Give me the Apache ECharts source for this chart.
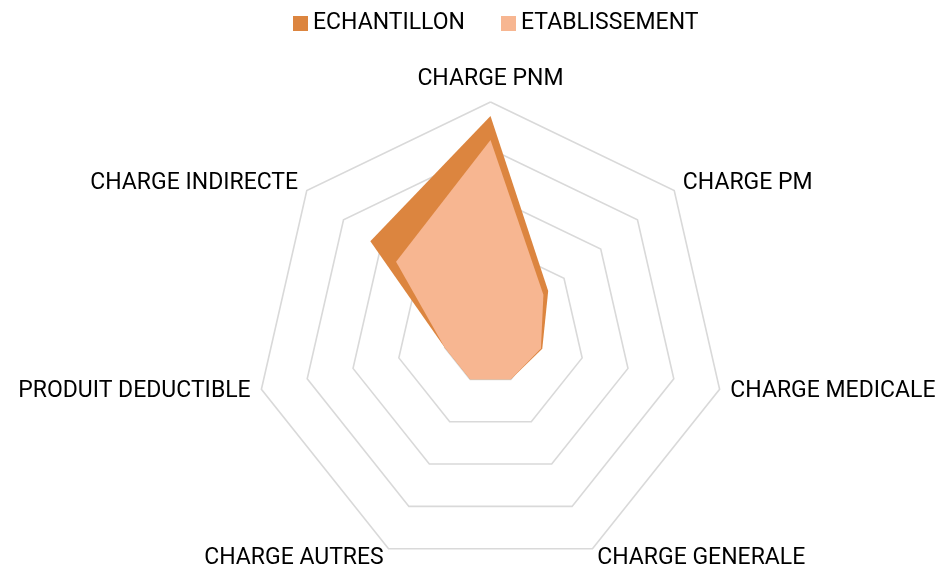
<!DOCTYPE html>
<html>
<head>
<meta charset="utf-8">
<script src="https://cdn.jsdelivr.net/npm/echarts@6/dist/echarts.min.js"></script>
<style>
html,body{margin:0;padding:0;background:#fff;}
#c{width:940px;height:570px;}
</style>
</head>
<body>
<div id="c"></div>
<script>
// Categories in clockwise order starting from the top
const categories = ['CHARGE PNM', 'CHARGE PM', 'CHARGE MEDICALE', 'CHARGE GENERALE', 'CHARGE AUTRES', 'PRODUIT DEDUCTIBLE', 'CHARGE INDIRECTE'];
const seriesNames = ['ECHANTILLON', 'ETABLISSEMENT'];
const echantillon = [4.70, 1.57, 1.13, 1.00, 1.00, 1.00, 3.27];
const etablissement = [4.19, 1.44, 1.10, 1.00, 1.00, 1.00, 2.57];
const axisMax = 5;

// ECharts lays radar indicators counter-clockwise; reorder to get clockwise layout
function cw(arr) { return [arr[0]].concat(arr.slice(1).reverse()); }

const chart = echarts.init(document.getElementById('c'));
chart.setOption({
  animation: false,
  backgroundColor: '#fff',
  textStyle: { fontFamily: 'Roboto' },
  legend: {
    data: seriesNames,
    top: 7,
    left: 288,
    icon: 'rect',
    itemWidth: 15,
    itemHeight: 15,
    itemGap: 36,
    textStyle: { fontFamily: 'Roboto', fontSize: 23, color: '#000' }
  },
  color: ['#DC853F', '#F7B691'],
  radar: {
    center: [490.5, 337],
    radius: 235,
    shape: 'polygon',
    splitNumber: 5,
    nameGap: 11,
    axisName: { fontFamily: 'Roboto', fontSize: 23, color: '#000' },
    indicator: cw(categories).map(n => ({ name: n, min: 0, max: axisMax })),
    axisLine: { show: false },
    axisTick: { show: false },
    axisLabel: { show: false },
    splitArea: { show: false },
    splitLine: { lineStyle: { color: '#D9D9D9', width: 1.6 } }
  },
  series: [
    {
      name: seriesNames[0],
      type: 'radar',
      symbol: 'none',
      lineStyle: { width: 0 },
      areaStyle: { opacity: 1, color: '#DC853F' },
      itemStyle: { color: '#DC853F' },
      data: [{ name: seriesNames[0], value: cw(echantillon) }]
    },
    {
      name: seriesNames[1],
      type: 'radar',
      symbol: 'none',
      lineStyle: { width: 0 },
      areaStyle: { opacity: 1, color: '#F7B691' },
      itemStyle: { color: '#F7B691' },
      data: [{ name: seriesNames[1], value: cw(etablissement) }]
    }
  ]
});
</script>
</body>
</html>
